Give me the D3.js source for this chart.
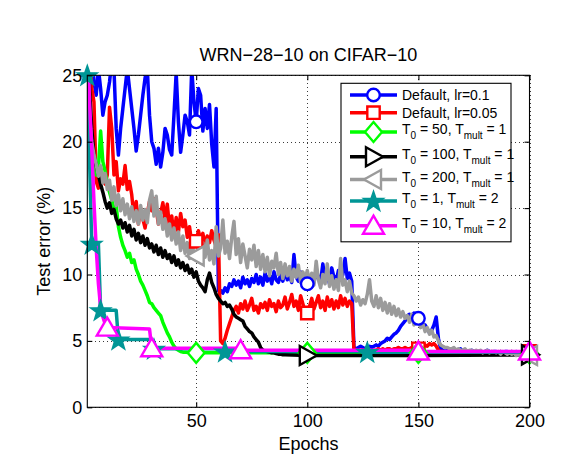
<!DOCTYPE html>
<html><head><meta charset="utf-8">
<script src="https://cdn.jsdelivr.net/npm/d3@7"></script>
<style>
body{margin:0;background:#fff}
svg{display:block}
text{font-family:"Liberation Sans",Arial,Helvetica,sans-serif;fill:#000}
</style>
</head><body>
<svg id="c" width="567" height="455"></svg>
<script>
// ---------------- data ----------------
const xTicks = [50, 100, 150, 200];
const yTicks = [0, 5, 10, 15, 20, 25];
const titleText = "WRN\u221228\u221210 on CIFAR\u221210";
const xLabel = "Epochs";
const yLabel = "Test error (%)";

const legendLabels = [
  "Default, lr=0.1",
  "Default, lr=0.05",
  "T_{0} = 50, T_{mult} = 1",
  "T_{0} = 100, T_{mult} = 1",
  "T_{0} = 200, T_{mult} = 1",
  "T_{0} = 1, T_{mult} = 2",
  "T_{0} = 10, T_{mult} = 2"
];

// Default, lr=0.1 (epochs 1..200)
const blueEpochs = d3.range(1, 201);
const blueErr = [
  40, 32, 27, 24.5, 23.5, 25.5, 24, 22, 23, 23.5,
  24.5, 26, 25.5, 21, 19, 21, 22.5, 24, 25.5, 24,
  22.5, 21, 19.3, 20.5, 22, 23.5, 24.8, 25.5, 22, 20,
  19.5, 18.3, 19.5, 18.1, 19.2, 21, 20.5, 19.4, 19, 22,
  25.2, 21.5, 19.2, 20.5, 22, 21.5, 20.5, 25.5, 23, 21.5,
  24, 23.5, 20.8, 22.5, 21, 22.8, 19.8, 18.1, 22.5, 8.8,
  8.8, 8.6, 9.0, 8.7, 9.3, 9.1, 9.6, 9.2, 9.5, 9.0,
  9.8, 9.3, 9.6, 9.1, 9.7, 9.4, 10.0, 9.3, 9.8, 9.2,
  10.1, 9.5, 9.9, 9.3, 10.2, 9.6, 9.4, 10.0, 9.5, 10.3,
  9.6, 9.9, 9.4, 11.5, 9.8, 9.5, 10.2, 9.6, 9.2, 9.3,
  9.0, 9.8, 9.4, 10.4, 9.7, 9.5, 10.8, 9.6, 10.0, 9.3,
  10.5, 9.8, 9.5, 10.3, 9.6, 10.0, 11.2, 9.7, 10.1, 9.5,
  4.5, 4.4, 4.5, 4.6, 4.5, 4.4, 4.5, 4.6, 4.5, 4.6,
  4.7, 4.6, 4.8, 4.9, 5.0, 5.2, 5.1, 5.3, 5.5, 5.6,
  5.8, 6.1, 6.3, 6.5, 6.9, 7.0, 6.9, 7.1, 7.0, 6.7,
  6.4, 6.3, 6.2, 5.9, 5.6, 5.8, 6.2, 6.8, 5.2, 4.4,
  4.3, 4.2, 4.3, 4.2, 4.3, 4.4, 4.2, 4.3, 4.4, 4.2,
  4.2, 4.1, 4.2, 4.3, 4.2, 4.1, 4.2, 4.2, 4.1, 4.2,
  4.3, 4.2, 4.1, 4.2, 4.2, 4.1, 4.2, 4.1, 4.2, 4.2,
  4.1, 4.2, 4.1, 4.2, 4.1, 4.1, 4.2, 4.1, 4.1, 4.1
];
const blueMarks = [50, 100, 150, 200];

// Default, lr=0.05 (epochs 1..200)
const redEpochs = d3.range(1, 201);
const redErr = [
  30, 27, 24, 23, 17, 16.5, 18, 17.2, 16.8, 17.5,
  22.6, 21, 17.5, 18.5, 16.3, 17.2, 16.8, 18.2, 16.4, 17,
  16, 14.3, 15.5, 13.8, 15, 14.2, 13.5, 14.6, 15.5, 14.8,
  15.7, 14.9, 13.8, 14.6, 15.4, 14.1, 15.3, 13.5, 14.4, 12.9,
  14.3, 13.2, 14.6, 13.6, 14.1, 12.8, 13.6, 12.4, 12.9, 12.5,
  13.3, 12.6, 13.1, 12.2, 12.9, 12.4, 13.3, 12.6, 12.1, 13.0,
  5.0, 4.8, 5.2, 5.8, 6.3, 6.8, 7.3, 7.6, 7.1, 7.8,
  7.4, 8.0, 7.3, 7.7, 8.2, 7.3, 7.6, 7.1, 7.8, 7.5,
  7.9, 7.3, 8.1, 7.6, 7.8, 7.2, 8.0, 7.5, 7.7, 8.3,
  7.4, 7.9, 8.5, 7.6, 8.0, 7.3, 8.4, 7.8, 7.2, 7.1,
  7.6, 8.2, 7.4, 7.9, 8.4, 7.5, 8.0, 7.3, 8.3, 7.6,
  8.1, 7.4, 8.0, 7.5, 8.4, 7.7, 8.2, 7.6, 8.0, 7.8,
  4.3, 4.3, 4.2, 4.3, 4.3, 4.2, 4.3, 4.3, 4.2, 4.3,
  4.3, 4.4, 4.3, 4.4, 4.3, 4.4, 4.4, 4.3, 4.4, 4.4,
  4.5, 4.4, 4.4, 4.5, 4.4, 4.4, 4.5, 4.4, 4.5, 4.4,
  4.5, 4.6, 4.7, 4.6, 4.8, 4.7, 4.8, 4.6, 4.3, 4.2,
  4.2, 4.1, 4.2, 4.2, 4.1, 4.2, 4.1, 4.2, 4.2, 4.1,
  4.1, 4.2, 4.1, 4.2, 4.1, 4.1, 4.2, 4.1, 4.1, 4.2,
  4.1, 4.1, 4.2, 4.1, 4.1, 4.1, 4.2, 4.1, 4.1, 4.1,
  4.1, 4.2, 4.1, 4.1, 4.1, 4.1, 4.1, 4.1, 4.1, 4.2
];
const redMarks = [50, 100, 150, 200];

// T0 = 50, Tmult = 1
const greenEpochs = [
  1, 2, 3, 4, 5, 6, 7, 8, 9, 10, 11, 12, 13, 14, 15, 16, 17, 18, 19, 20,
  21, 22, 23, 24, 25, 26, 27, 28, 29, 30, 31, 32, 33, 34, 35, 36, 37, 38, 39, 40,
  41, 42, 43, 44, 45, 50, 100, 150, 200
];
const greenErr = [
  30, 22, 19.5, 18.5, 17.5, 18, 20.8, 18.5, 17.8, 16.8,
  16.2, 15.6, 14.8, 15.2, 13.6, 12.8, 12.2, 11.8, 11.3, 11.6,
  10.9, 11.1, 10.4, 10.0, 9.5, 9.2, 8.8, 8.4, 7.9, 7.8,
  7.5, 7.3, 7.1, 6.9, 6.4, 6.0, 5.6, 5.3, 4.9, 4.6,
  4.4, 4.3, 4.2, 4.15, 4.15, 4.1, 4.1, 4.1, 4.05
];
const greenMarks = [50, 100, 150, 200];

// T0 = 100, Tmult = 1
const blackEpochs = [
  1, 2, 3, 4, 5, 6, 7, 8, 9, 10, 11, 12, 13, 14, 15, 16, 17, 18, 19, 20,
  21, 22, 23, 24, 25, 26, 27, 28, 29, 30, 31, 32, 33, 34, 35, 36, 37, 38, 39, 40,
  41, 42, 43, 44, 45, 46, 47, 48, 49, 50, 51, 52, 53, 54, 55, 56, 57, 58, 59, 60,
  61, 62, 63, 64, 65, 66, 67, 68, 69, 70, 71, 72, 73, 74, 75, 76, 77, 78, 79, 80,
  81, 82, 83, 84, 85, 86, 87, 88, 89, 90, 100, 150, 200
];
const blackErr = [
  32, 24, 21, 19, 18.2, 17.5, 16.8, 16.2, 15.5, 15.0,
  15.4, 14.6, 14.9, 14.2, 13.8, 14.1, 13.5, 13.9, 13.2, 13.7,
  12.9, 13.4, 12.6, 13.1, 12.4, 12.9, 12.2, 12.7, 12.0, 12.3,
  11.7, 12.2, 11.5, 12.0, 11.3, 11.8, 11.2, 11.5, 10.9, 11.4,
  10.7, 11.1, 10.5, 10.9, 10.3, 10.7, 10.1, 10.4, 9.8, 10.2,
  9.5, 9.2, 9.0, 8.7, 9.6, 10.1, 9.4, 9.0, 8.5, 8.2,
  8.0, 7.8, 7.9, 7.6, 7.7, 7.4, 7.0, 6.8, 6.7, 6.6,
  6.5, 6.1, 5.9, 5.7, 5.6, 5.3, 5.1, 4.9, 4.5, 4.3,
  4.25, 4.2, 4.15, 4.1, 4.1, 4.05, 4.0, 4.0, 3.95, 3.95,
  3.9, 3.9, 3.95
];
const blackMarks = [100, 200];

// T0 = 200, Tmult = 1 (epochs 1..200)
const grayEpochs = d3.range(1, 201);
const grayErr = [
  28, 22, 20, 19, 18.3, 17.4, 18.2, 16.9, 17.6, 16.4,
  17.1, 15.6, 16.6, 15.2, 16.0, 14.8, 15.7, 14.5, 15.3, 14.2,
  15.1, 14.0, 14.8, 13.8, 15.2, 14.1, 14.9, 13.9, 15.6, 16.3,
  14.4, 15.9, 13.8, 14.7, 13.4, 14.2, 12.9, 13.8, 12.6, 13.5,
  12.3, 13.2, 11.8, 12.9, 11.6, 12.4, 11.2, 12.5, 11.5, 11.4,
  12.2, 11.0, 12.4, 11.3, 12.6, 11.1, 11.8, 10.8, 13.6, 11.4,
  12.0, 14.1, 11.6, 12.5, 11.2, 12.8, 14.0, 11.5, 12.7, 10.9,
  12.3, 11.4, 10.5, 11.9, 11.1, 12.2, 10.6, 11.8, 10.4, 11.5,
  10.2, 11.3, 9.9, 11.0, 10.5, 11.6, 10.0, 10.9, 9.7, 10.8,
  9.9, 10.6, 9.5, 10.4, 9.8, 10.7, 9.4, 10.2, 9.6, 10.3,
  9.5, 10.1, 9.2, 11.0, 9.6, 9.0, 10.0, 9.3, 10.8, 9.1,
  9.9, 8.9, 9.6, 8.8, 11.2, 9.2, 9.6, 8.7, 9.5, 8.6,
  8.4, 8.0, 8.3, 7.7, 8.1, 7.8, 8.5, 9.6, 8.0, 7.6,
  8.4, 7.5, 8.2, 7.3, 7.9, 7.1, 7.8, 7.0, 7.6, 6.9,
  7.4, 6.8, 7.2, 6.7, 6.9, 6.4, 7.0, 6.2, 6.5, 6.6,
  6.0, 6.3, 5.7, 6.0, 5.5, 5.8, 5.3, 5.4, 5.0, 4.7,
  4.6, 4.5, 4.5, 4.4, 4.4, 4.5, 4.3, 4.4, 4.3, 4.3,
  4.4, 4.2, 4.3, 4.3, 4.2, 4.3, 4.2, 4.3, 4.1, 4.2,
  4.3, 4.1, 4.2, 4.2, 4.1, 4.2, 4.0, 4.2, 4.1, 4.0,
  4.1, 4.0, 4.1, 3.9, 4.0, 3.9, 4.0, 3.8, 3.9, 3.9
];
const grayMarks = [50, 200];

// T0 = 1, Tmult = 2
const tealEpochs = [1, 3, 6, 7, 14, 15, 30, 31, 62, 63, 126, 127, 200];
const tealErr = [25, 12.3, 12.3, 7.3, 7.3, 5.1, 5.1, 4.4, 4.4, 4.2, 4.2, 4.15, 4.15];
const tealMarks = [1, 3, 7, 15, 31, 63, 127];

// T0 = 10, Tmult = 2
const magentaEpochs = [1, 2, 3, 4, 5, 6, 7, 8, 9, 10, 29, 30, 69, 70, 149, 150, 200];
const magentaErr = [28, 23, 19.5, 15.5, 12, 9.3, 7.5, 6.8, 6.3, 6.0, 5.9, 4.45, 4.45, 4.3, 4.3, 4.2, 4.2];
const magentaMarks = [10, 30, 70, 150, 200];

const seriesColors = ["#0000ff", "#ff0000", "#00ff00", "#000000", "#9b9b9b", "#009696", "#ff00ff"];
const markerTypes = ["circle", "square", "diamond", "triRight", "triLeft", "star", "triUp"];

// ---------------- build ----------------
const series = [
  {ep: blueEpochs, v: blueErr, m: blueMarks},
  {ep: redEpochs, v: redErr, m: redMarks},
  {ep: greenEpochs, v: greenErr, m: greenMarks},
  {ep: blackEpochs, v: blackErr, m: blackMarks},
  {ep: grayEpochs, v: grayErr, m: grayMarks},
  {ep: tealEpochs, v: tealErr, m: tealMarks},
  {ep: magentaEpochs, v: magentaErr, m: magentaMarks}
].map((s, i) => ({
  label: legendLabels[i],
  color: seriesColors[i],
  marker: markerTypes[i],
  points: s.ep.map((e, j) => ({e: e, v: s.v[j]})),
  marks: s.m.map(e => ({e: e, v: s.v[s.ep.indexOf(e)]}))
}));

const svg = d3.select("#c");
const L = 87.3, R = 529.5, T = 75.3, B = 407.3;
const x = d3.scaleLinear().domain([1, 200]).range([L, R]);
const y = d3.scaleLinear().domain([0, 25]).range([B, T]);

svg.append("rect").attr("width", 567).attr("height", 455).attr("fill", "#fff");

// grid
const grid = svg.append("g").attr("stroke", "#3a3a3a").attr("stroke-width", 1)
  .attr("stroke-dasharray", "1,3").attr("shape-rendering", "crispEdges");
grid.selectAll(".gx").data(xTicks).join("line")
  .attr("x1", d => Math.round(x(d)) + 0.5).attr("x2", d => Math.round(x(d)) + 0.5)
  .attr("y1", T).attr("y2", B);
grid.selectAll(".gy").data(yTicks).join("line")
  .attr("y1", d => Math.round(y(d)) + 0.5).attr("y2", d => Math.round(y(d)) + 0.5)
  .attr("x1", L).attr("x2", R);

// clip
svg.append("clipPath").attr("id", "clip").append("rect")
  .attr("x", L).attr("y", T).attr("width", R - L).attr("height", B - T);

const line = d3.line().x(d => x(d.e)).y(d => y(d.v));
const lw = 3.5;

const plotG = svg.append("g").attr("clip-path", "url(#clip)");
series.forEach(s => {
  plotG.append("path").datum(s.points)
    .attr("d", line).attr("fill", "none").attr("stroke", s.color)
    .attr("stroke-width", lw).attr("stroke-linejoin", "round").attr("stroke-linecap", "butt");
});

function markerPath(type) {
  switch (type) {
    case "circle": { const p = d3.path(); p.arc(0, 0, 6.3, 0, 2 * Math.PI); p.closePath(); return p.toString(); }
    case "square": return "M-6.2,-6.2H6.2V6.2H-6.2Z";
    case "diamond": return "M0,-10L8.5,0L0,10L-8.5,0Z";
    case "triRight": return "M-7.5,-9.5L9.5,0L-7.5,9.5Z";
    case "triLeft": return "M7.5,-9.5L-9.5,0L7.5,9.5Z";
    case "triUp": return "M0,-10L10.5,8L-10.5,8Z";
    case "star": {
      const pts = [];
      for (let k = 0; k < 10; k++) {
        const r = k % 2 === 0 ? 10.5 : 4.2;
        const a = -Math.PI / 2 + k * Math.PI / 5;
        pts.push([r * Math.cos(a), r * Math.sin(a) + 0.8]);
      }
      return "M" + pts.map(p => p[0].toFixed(2) + "," + p[1].toFixed(2)).join("L") + "Z";
    }
  }
}
function drawMarker(g, type, color, cx, cy) {
  g.append("path").attr("d", markerPath(type))
    .attr("transform", `translate(${cx},${cy})`)
    .attr("fill", type === "star" ? color : "#fff")
    .attr("stroke", color).attr("stroke-width", type === "star" ? 1.5 : 2.4)
    .attr("stroke-linejoin", "miter");
}

const markG = svg.append("g");
series.forEach(s => {
  s.marks.forEach(d => drawMarker(markG, s.marker, s.color, x(d.e), y(d.v)));
});

// axes box
svg.append("rect").attr("x", L).attr("y", T).attr("width", R - L).attr("height", B - T)
  .attr("fill", "none").attr("stroke", "#000").attr("stroke-width", 1.1);

const fs = 18;
function styleAxis(g) {
  g.select(".domain").remove();
  g.selectAll(".tick line").attr("stroke", "#000").attr("stroke-width", 1.1);
  g.selectAll("text").attr("font-size", fs).attr("font-family", '"Liberation Sans", Arial, sans-serif').attr("fill", "#000");
}
svg.append("g").attr("transform", `translate(0,${B})`)
  .call(d3.axisBottom(x).tickValues(xTicks).tickSize(-5).tickPadding(7)).call(styleAxis);
svg.append("g").attr("transform", `translate(0,${T})`)
  .call(d3.axisTop(x).tickValues(xTicks).tickSize(-5).tickFormat("")).call(styleAxis);
svg.append("g").attr("transform", `translate(${L},0)`)
  .call(d3.axisLeft(y).tickValues(yTicks).tickSize(-5).tickPadding(5)).call(styleAxis);
svg.append("g").attr("transform", `translate(${R},0)`)
  .call(d3.axisRight(y).tickValues(yTicks).tickSize(-5).tickFormat("")).call(styleAxis);
// remove empty tick texts of the unlabeled top/right axes
svg.selectAll("text").filter(function () { return this.textContent === ""; }).remove();

// labels
svg.append("text").attr("x", (L + R) / 2).attr("y", 60.5).attr("text-anchor", "middle")
  .attr("font-size", fs).text(titleText);
svg.append("text").attr("x", (L + R) / 2).attr("y", 450).attr("text-anchor", "middle")
  .attr("font-size", fs).text(xLabel);
svg.append("text").attr("transform", `translate(50,${(T + B) / 2}) rotate(-90)`)
  .attr("text-anchor", "middle").attr("font-size", fs).text(yLabel);

// legend
const lg = svg.append("g");
lg.append("rect").attr("x", 341).attr("y", 83.3).attr("width", 170).attr("height", 158.5)
  .attr("fill", "#fff").attr("stroke", "#000").attr("stroke-width", 1.1);
const rowY = [95, 112.7, 132, 156.7, 179.5, 201, 225.7];
series.forEach((s, i) => {
  const cy = rowY[i];
  lg.append("line").attr("x1", 350).attr("x2", 397).attr("y1", cy).attr("y2", cy)
    .attr("stroke", s.color).attr("stroke-width", lw);
  drawMarker(lg, s.marker, s.color, 373.5, cy);
  const hasSub = s.label.indexOf("_{") >= 0;
  const t = lg.append("text").attr("x", 402).attr("y", cy + (hasSub ? 2.3 : 5.3)).attr("font-size", 14);
  const parts = s.label.split(/(_\{[^}]*\})/).filter(p => p.length);
  let shift = 0;
  parts.forEach(p => {
    if (p.startsWith("_{")) {
      t.append("tspan").attr("font-size", 10).attr("dy", 5 - shift).text(p.slice(2, -1));
      shift = 5;
    } else {
      t.append("tspan").attr("dy", -shift).text(p);
      shift = 0;
    }
  });
});
</script>
</body></html>
